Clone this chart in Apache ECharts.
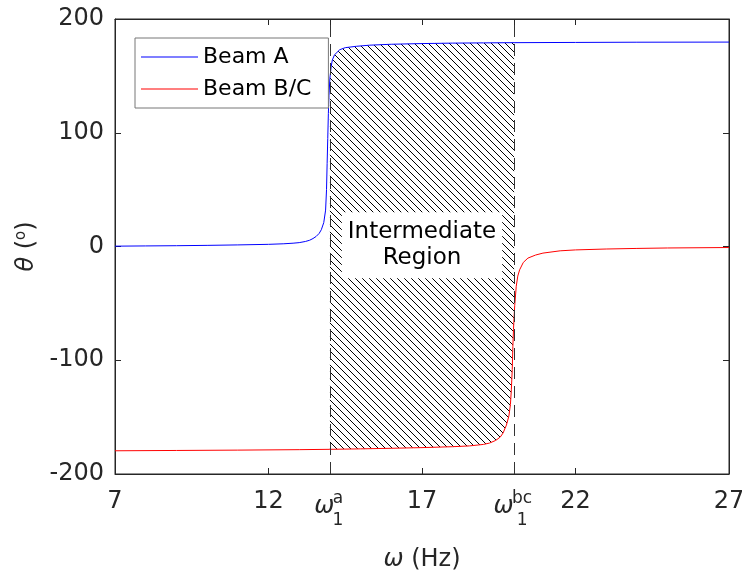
<!DOCTYPE html>
<html>
<head>
<meta charset="utf-8">
<script src="https://cdn.jsdelivr.net/npm/echarts@6/dist/echarts.min.js"></script>
<style>
html,body{margin:0;padding:0;background:#fff}
#chart{width:742px;height:578px}
</style>
</head>
<body>
<div id="chart"></div>
<script>
// phase angle (deg) vs frequency (Hz)
const beamA = [
  [7,0.3],[8,0.5],[9,0.7],[10,1.0],[11,1.4],[12,1.9],[12.5,2.4],[12.8,2.9],[13,3.4],[13.2,4.4],
  [13.34,5.5],[13.45,7],[13.55,8.8],[13.65,11.5],[13.72,14.7],[13.8,21],[13.86,32],[13.89,50],
  [13.91,73],[13.93,95],[13.95,117],[13.97,133],[14.0,148],[14.04,158],[14.08,164],[14.15,168.5],
  [14.32,173],[14.5,174.8],[14.86,176],[15.3,177],[16,177.8],[17,178.4],[18,178.8],[19,179.0],
  [20,179.2],[22,179.4],[24,179.6],[27,179.7]
];
const beamBC = [
  [7,-179.6],[9,-179.3],[11,-179.0],[13,-178.6],[14,-178.3],[15,-177.9],[16,-177.4],[17,-176.8],
  [18,-176.0],[18.55,-175.3],[19,-174.0],[19.2,-172.8],[19.4,-170.5],[19.55,-167.5],[19.64,-164],
  [19.75,-157],[19.83,-149],[19.88,-139],[19.91,-126],[19.94,-108],[19.96,-88],[19.98,-73],
  [20.0,-62],[20.02,-52],[20.07,-35],[20.12,-26],[20.18,-20.5],[20.3,-14],[20.45,-10.2],
  [20.7,-7.5],[20.94,-5.8],[21.5,-3.8],[22,-3.0],[23,-2.2],[24,-1.7],[25,-1.3],[27,-0.9]
];
const seriesNames = ['Beam A', 'Beam B/C'];
const regionEdges = [14, 20];
const regionSup = ['a', 'bc'];
const regionLabel = 'Intermediate\nRegion';
const regionLabelAt = [17, 1];
const xTickValues = [7, 12, 14, 17, 20, 22, 27];

const FONT = 'DejaVu Sans, Liberation Sans, sans-serif';
const INK = '#262626';

function hatch(step) {
  const c = document.createElement('canvas');
  c.width = c.height = step;
  const g = c.getContext('2d');
  g.strokeStyle = '#000';
  g.lineWidth = 1;
  g.beginPath();
  g.moveTo(-1, -1); g.lineTo(step + 1, step + 1);
  g.moveTo(-1, step - 1); g.lineTo(1, step + 1);
  g.moveTo(step - 1, -1); g.lineTo(step + 1, 1);
  g.stroke();
  return c;
}
const hatchImg = hatch(7);

function xLabel(v) {
  const i = regionEdges.indexOf(v);
  if (i < 0) return '{n|' + v + '}';
  const k = i === 0 ? 'A' : 'B';
  return '{s1| }{sup' + k + '|' + regionSup[i] + '}\n{w|ω}{s2' + k + '| }\n{s3| }{sub' + k + '|1}';
}

const small = { fontSize: 17, color: INK, fontFamily: FONT };
const chart = echarts.init(document.getElementById('chart'));
chart.setOption({
  animation: false,
  textStyle: { fontFamily: FONT },
  grid: { left: 115, right: 13, top: 19, bottom: 104, show: true, borderColor: INK, borderWidth: 1, outerBoundsMode: 'none' },
  legend: {
    data: seriesNames,
    orient: 'vertical',
    left: 135, top: 38,
    icon: 'rect', itemWidth: 57, itemHeight: 1.2, itemGap: 10,
    padding: [8, 17, 8, 6],
    borderColor: '#777', borderWidth: 1, backgroundColor: '#fff',
    textStyle: { fontSize: 22, color: '#000', fontFamily: FONT, lineHeight: 22 }
  },
  xAxis: [{
    type: 'value', min: 7, max: 27, position: 'bottom',
    axisLine: { show: true, onZero: false, lineStyle: { color: INK } },
    axisTick: { show: true, inside: true, length: 6, customValues: xTickValues, lineStyle: { color: INK } },
    splitLine: { show: false },
    axisLabel: {
      customValues: xTickValues, margin: 20, color: INK, formatter: xLabel,
      rich: {
        n: { fontSize: 24, lineHeight: 16, color: INK, fontFamily: FONT },
        w: { fontSize: 24, fontStyle: 'italic', width: 16, lineHeight: 8, color: INK, fontFamily: FONT },
        s1: Object.assign({}, small, { width: 16, lineHeight: 9 }),
        s3: Object.assign({}, small, { width: 16, lineHeight: 20 }),
        supA: Object.assign({}, small, { width: 11, lineHeight: 9 }),
        supB: Object.assign({}, small, { width: 21, lineHeight: 9 }),
        s2A: Object.assign({}, small, { width: 11, lineHeight: 8 }),
        s2B: Object.assign({}, small, { width: 21, lineHeight: 8 }),
        subA: Object.assign({}, small, { width: 11, lineHeight: 20 }),
        subB: Object.assign({}, small, { width: 21, lineHeight: 20 })
      }
    },
    name: '{w|ω} (Hz)', nameLocation: 'middle', nameGap: 74,
    nameTextStyle: { fontSize: 24, color: INK, fontFamily: FONT, rich: { w: { fontSize: 24, fontStyle: 'italic', color: INK, fontFamily: FONT } } }
  }, {
    type: 'value', min: 7, max: 27, position: 'top',
    axisLine: { show: true, onZero: false, lineStyle: { color: INK } },
    axisTick: { show: true, inside: true, length: 6, customValues: xTickValues, lineStyle: { color: INK } },
    axisLabel: { show: false }, splitLine: { show: false }
  }],
  yAxis: [{
    type: 'value', min: -200, max: 200, interval: 100,
    axisLine: { show: true, onZero: false, lineStyle: { color: INK } },
    axisTick: { show: true, inside: true, length: 6, lineStyle: { color: INK } },
    splitLine: { show: false },
    axisLabel: { fontSize: 24, color: INK, margin: 11 },
    name: '{i|θ} ({s|o})', nameLocation: 'middle', nameGap: 70, nameRotate: 90,
    nameTextStyle: {
      fontSize: 24, color: INK, fontFamily: FONT,
      rich: {
        i: { fontSize: 24, fontStyle: 'italic', color: INK, fontFamily: FONT },
        s: { fontSize: 15, padding: [0, 0, 12, 0], color: INK, fontFamily: FONT }
      }
    }
  }, {
    type: 'value', min: -200, max: 200, interval: 100, position: 'right',
    axisLine: { show: true, onZero: false, lineStyle: { color: INK } },
    axisTick: { show: true, inside: true, length: 6, lineStyle: { color: INK } },
    axisLabel: { show: false }, splitLine: { show: false }
  }],
  series: [{
    type: 'custom',
    coordinateSystem: 'cartesian2d',
    silent: true,
    data: [regionLabelAt],
    renderItem: function (params, api) {
      const lo = regionEdges[0], hi = regionEdges[1];
      const top = beamA.filter(p => p[0] >= lo && p[0] <= hi);
      const bot = beamBC.filter(p => p[0] >= lo && p[0] <= hi).reverse();
      const pts = top.concat(bot).map(p => api.coord(p));
      const c = api.coord(regionLabelAt);
      return {
        type: 'group',
        children: [{
          type: 'polygon',
          shape: { points: pts },
          style: { fill: { image: hatchImg, repeat: 'repeat' }, stroke: null }
        }, {
          type: 'text',
          x: c[0], y: c[1],
          style: {
            text: regionLabel, font: '23px ' + FONT, fill: '#000',
            align: 'center', verticalAlign: 'middle', lineHeight: 26,
            backgroundColor: '#fff', padding: [7, 6]
          }
        }]
      };
    }
  }, {
    name: seriesNames[0], type: 'line', data: beamA,
    symbol: 'none', showSymbol: false, color: '#0000ff',
    lineStyle: { width: 1, color: '#0000ff' },
    markLine: {
      silent: true, symbol: ['none', 'none'], label: { show: false },
      lineStyle: { color: '#333', type: [12, 7], width: 1 },
      data: regionEdges.map(v => ({ xAxis: v }))
    }
  }, {
    name: seriesNames[1], type: 'line', data: beamBC,
    symbol: 'none', showSymbol: false, color: '#ff0000',
    lineStyle: { width: 1, color: '#ff0000' }
  }]
});
</script>
</body>
</html>
